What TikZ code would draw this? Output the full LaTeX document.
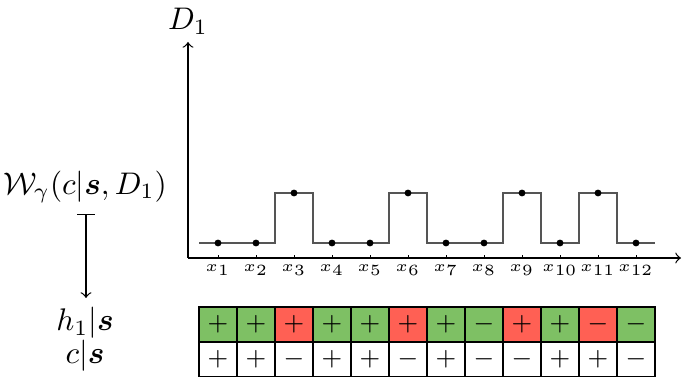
\documentclass[tikz,border=0pt]{standalone}
\usepackage{amsmath,amssymb}
\definecolor{cellgreen}{RGB}{126,192,100}
\definecolor{cellred}{RGB}{255,96,84}
\definecolor{stepgray}{RGB}{85,85,85}
\begin{document}
\begin{tikzpicture}[x=0.32pt,y=-0.32pt,
  axis/.style={line width=0.4pt,->},
  stepline/.style={stepgray,line width=0.5pt},
  dotnode/.style={circle,fill=black,inner sep=0pt,minimum size=2.2pt},
  xlab/.style={font=\tiny,inner sep=0pt},
  lbl/.style={inner sep=0pt},
  cell/.style={draw=black,line width=0.6pt,minimum width=12.16pt,minimum height=11.2pt,inner sep=0pt,font=\footnotesize},
  gcell/.style={cell,fill=cellgreen},
  rcell/.style={cell,fill=cellred},
  wcell/.style={cell,fill=white}]
\useasboundingbox (0,0) rectangle (682,377);
% axes
\coordinate (O) at (188,258);
\coordinate (ytop) at (188,42);
\coordinate (xend) at (681,258);
\draw[axis] (O) -- (ytop);
\draw[axis] (O) -- (xend);
\node[lbl] (D) at (188,21) {$D_1$};
% step function
\draw[stepline] (199,243) -- (275,243) -- (275,193) -- (313,193) -- (313,243)
  -- (389,243) -- (389,193) -- (427,193) -- (427,243) -- (503,243) -- (503,193)
  -- (541,193) -- (541,243) -- (579,243) -- (579,193) -- (617,193) -- (617,243) -- (655,243);
% dots, ticks, labels
\foreach \i/\lev in {1/243,2/243,3/193,4/243,5/243,6/193,7/243,8/243,9/193,10/243,11/193,12/243}{
  \pgfmathsetmacro{\xx}{218+38*(\i-1)}
  \node[dotnode] (p\i) at (\xx,\lev) {};
  \draw[line width=0.3pt] (\xx,255.5) -- (\xx,258);
  \node[xlab] (xl\i) at (\xx,270) {$x_{\i}$};
}
% grid
\foreach \i/\s/\st in {1/+/gcell,2/+/gcell,3/+/rcell,4/+/gcell,5/+/gcell,6/+/rcell,7/+/gcell,8/-/gcell,9/+/rcell,10/+/gcell,11/-/rcell,12/-/gcell}{
  \pgfmathsetmacro{\xx}{218+38*(\i-1)}
  \node[\st] (h\i) at (\xx,324.5) {$\s$};
}
\foreach \i/\s in {1/+,2/+,3/-,4/+,5/+,6/-,7/+,8/-,9/-,10/+,11/+,12/-}{
  \pgfmathsetmacro{\xx}{218+38*(\i-1)}
  \node[wcell] (c\i) at (\xx,359.5) {$\s$};
}
% left labels
\node[lbl] (W) at (85,187) {$\mathcal{W}_\gamma(c|\boldsymbol{s},D_1)$};
\node[lbl] (H) at (85,323) {$h_1|\boldsymbol{s}$};
\node[lbl] (C) at (85,356) {$c|\boldsymbol{s}$};
\coordinate (arrA) at (86,214);
\coordinate (arrB) at (86,298);
\draw[line width=0.4pt,|->] (arrA) -- (arrB);
\end{tikzpicture}
\end{document}
